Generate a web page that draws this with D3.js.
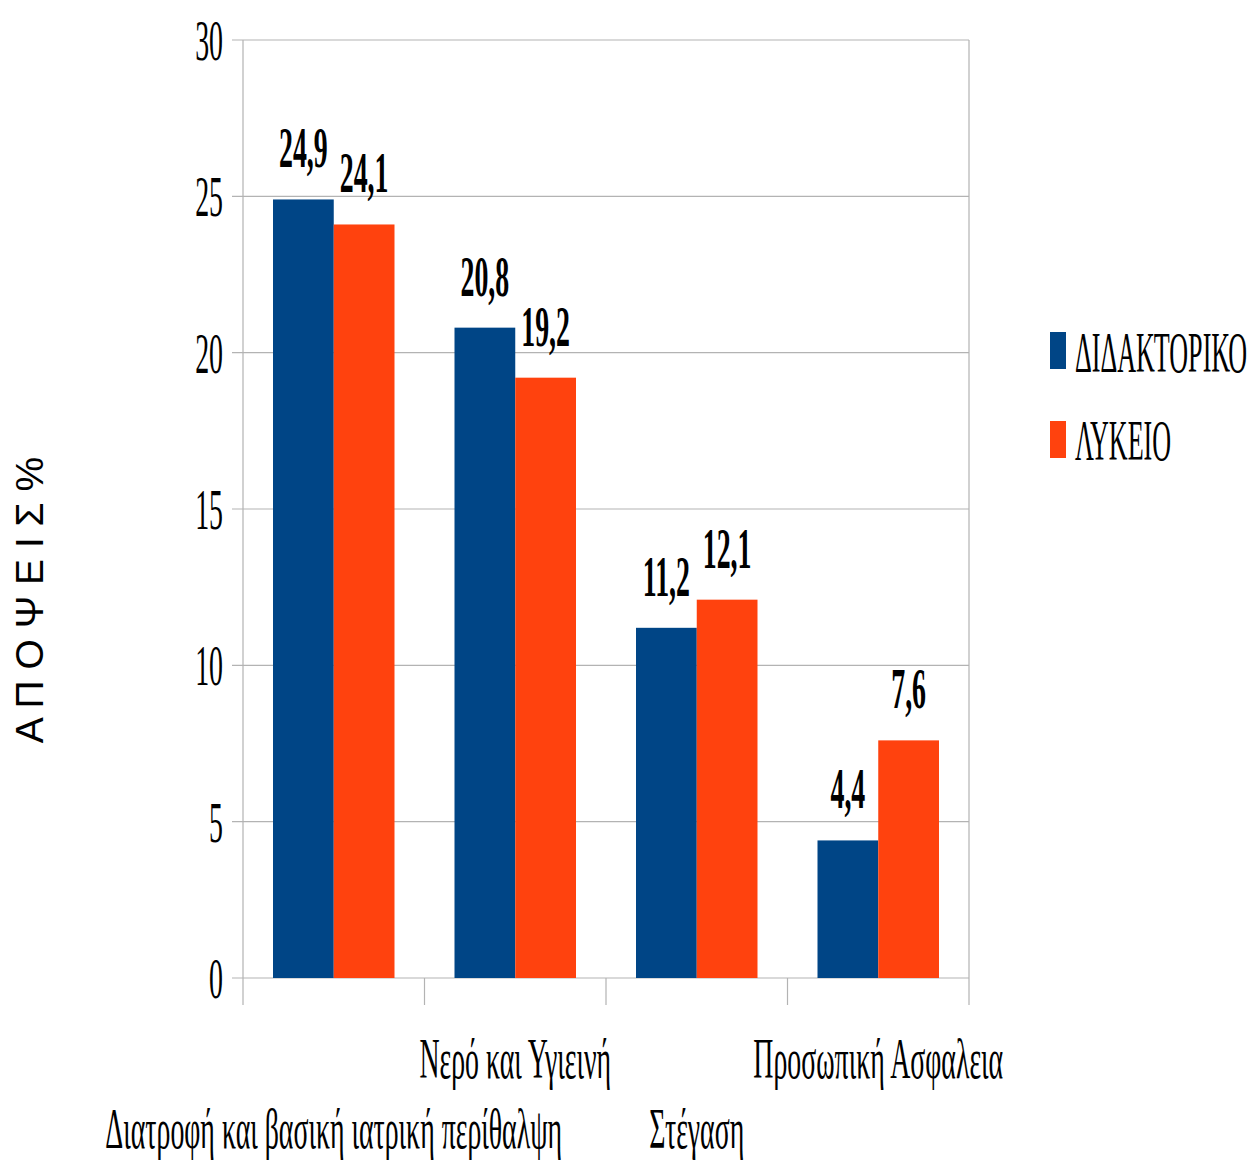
<!DOCTYPE html>
<html><head><meta charset="utf-8">
<script src="https://cdn.jsdelivr.net/npm/d3@7"></script>
<style>body{margin:0;background:#fff}</style>
</head><body>
<svg id="c" width="1252" height="1162"></svg>
<script>
const categories = ["Διατροφή και βασική ιατρική περίθαλψη","Νερό και Υγιεινή","Στέγαση","Προσωπική Ασφαλεια"];
const seriesNames = ["ΔΙΔΑΚΤΟΡΙΚΟ","ΛΥΚΕΙΟ"];
const didaktoriko = [24.9, 20.8, 11.2, 4.4];
const lykeio = [24.1, 19.2, 12.1, 7.6];
const yTicks = [0,5,10,15,20,25,30];
const colors = ["#004586","#ff420e"];
const yTitle = "Α Π Ο Ψ Ε Ι Σ %";

const svg = d3.select("#c");
const L=243, R=969, T=40, B=978;
const SX = 0.48, SXL = 0.45;
const serif = '"Liberation Serif", "Times New Roman", FreeSerif, serif';

const x = d3.scaleBand().domain(categories).range([L,R]).paddingInner(0).paddingOuter(0);
const x1 = d3.scaleBand().domain(seriesNames).range([30, x.bandwidth()-30]);
const y = d3.scaleLinear().domain([0,30]).range([B,T]);

// gridlines
svg.append("g").selectAll("line").data(yTicks).join("line")
  .attr("x1",L-11).attr("x2",R).attr("y1",d=>y(d)).attr("y2",d=>y(d))
  .attr("stroke","#b3b3b3").attr("stroke-width",1.2);
// axes lines
svg.append("line").attr("x1",L).attr("x2",L).attr("y1",T).attr("y2",B+27).attr("stroke","#b3b3b3").attr("stroke-width",1.2);
svg.append("line").attr("x1",R).attr("x2",R).attr("y1",T).attr("y2",B+27).attr("stroke","#b3b3b3").attr("stroke-width",1.2);
svg.append("g").selectAll("line").data(categories.slice(1)).join("line")
  .attr("x1",d=>x(d)).attr("x2",d=>x(d)).attr("y1",B).attr("y2",B+27)
  .attr("stroke","#b3b3b3").attr("stroke-width",1.2);

// y tick labels
svg.append("g").selectAll("g").data(yTicks).join("g")
  .attr("transform",d=>`translate(223,${y(d)+20}) scale(${SX},1)`)
  .append("text").attr("text-anchor","end").style("font-family",serif)
  .attr("font-size",58).attr("fill","#000").text(d=>d);

// bars
const data = categories.map((c,i)=>({c, vals:[didaktoriko[i], lykeio[i]]}));
const gc = svg.append("g").selectAll("g").data(data).join("g")
  .attr("transform",d=>`translate(${x(d.c)},0)`);
gc.selectAll("rect").data(d=>d.vals.map((v,j)=>({v,s:seriesNames[j],j}))).join("rect")
  .attr("x",d=>x1(d.s)).attr("width",x1.bandwidth())
  .attr("y",d=>y(d.v)).attr("height",d=>B-y(d.v)).attr("fill",d=>colors[d.j]);
gc.selectAll("g.lab").data(d=>d.vals.map((v,j)=>({v,s:seriesNames[j],j}))).join("g")
  .attr("class","lab")
  .attr("transform",d=>`translate(${x1(d.s)+x1.bandwidth()/2},${y(d.v)-32}) scale(${SX},1)`)
  .append("text").attr("text-anchor","middle").style("font-family",serif)
  .attr("font-weight","bold").attr("font-size",58).attr("fill","#000")
  .text(d=>String(d.v.toFixed(1)).replace(".",","));

// category labels (staggered)
svg.append("g").selectAll("g").data(categories).join("g")
  .attr("transform",(d,i)=>`translate(${x(d)+x.bandwidth()/2},${i%2===0?1148:1078}) scale(${SX},1)`)
  .append("text").attr("text-anchor","middle").style("font-family",serif)
  .attr("font-size",58).attr("fill","#000").text(d=>d);

// y title
svg.append("text").attr("transform","translate(43,600) rotate(-90)")
  .attr("text-anchor","middle").style("font-family",'"Liberation Sans", Arial, sans-serif')
  .attr("font-size",39).attr("fill","#000").text(yTitle);

// legend
const lg = svg.append("g").selectAll("g").data(seriesNames).join("g");
lg.append("rect").attr("x",1050).attr("y",(d,i)=>332+i*89).attr("width",16).attr("height",37)
  .attr("fill",(d,i)=>colors[i]);
lg.append("g").attr("transform",(d,i)=>`translate(1075,${372+i*88}) scale(${SXL},1)`)
  .append("text").style("font-family",serif).attr("font-size",58).attr("fill","#000").text(d=>d);
</script>
</body></html>
